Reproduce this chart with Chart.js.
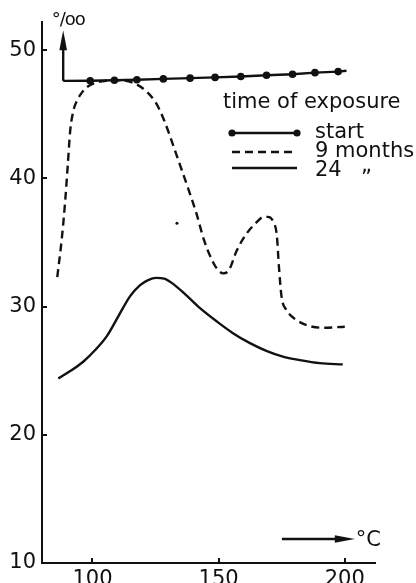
<!DOCTYPE html>
<html>
<head>
<meta charset="utf-8">
<script src="https://cdn.jsdelivr.net/npm/chart.js@4.4.1/dist/chart.umd.min.js"></script>
<style>
  html, body { margin: 0; padding: 0; background: #fff; }
  #wrap { width: 416px; height: 583px; overflow: hidden; }
</style>
</head>
<body>
<div id="wrap"><canvas id="c" width="416" height="583"></canvas></div>
<script>
// Axis ticks and labels
const xTicks = [100, 150, 200];
const yTicks = [10, 20, 30, 40, 50];
const legendTitle = 'time of exposure';
const seriesNames = ['start', '9 months', '24'];
const dittoMark = '\u201E';
const yUnit = '\u00B0/oo';
const xUnit = '\u00B0C';

// start of exposure (dots are measured points; first/last are line ends)
const tempStart = [88.4, 99.1, 108.7, 117.6, 128.1, 138.7, 148.6, 158.8, 169.0, 179.3, 188.2, 197.4, 200.7];
const ppmStart  = [47.61, 47.62, 47.66, 47.70, 47.76, 47.82, 47.88, 47.95, 48.05, 48.13, 48.25, 48.33, 48.40];
const startDot  = [false, true, true, true, true, true, true, true, true, true, true, true, false];

// after 9 months
const temp9 = [86.05, 87.91, 89.22, 90.21, 91.20, 92.50, 93.97, 95.95, 98.32, 101.49, 105.45, 109.40, 113.36,
  117.32, 121.27, 125.23, 128.40, 131.56, 134.73, 137.89, 141.06, 144.23, 147.40, 149.77, 151.86, 154.12,
  157.29, 161.24, 165.20, 167.57, 169.55, 171.53, 173.11, 173.90, 174.97, 176.95, 180.91, 186.17, 191.32, 200.02];
const ppm9 = [32.30, 35.42, 38.31, 41.03, 43.76, 45.32, 46.10, 46.73, 47.19, 47.47, 47.62, 47.66, 47.61,
  47.35, 46.80, 45.87, 44.54, 42.83, 41.03, 39.24, 37.37, 35.18, 33.63, 32.85, 32.59, 32.85,
  34.41, 35.73, 36.61, 36.98, 37.00, 36.67, 35.50, 33.16, 30.76, 29.73, 28.95, 28.48, 28.35, 28.43];

// after 24 months
const temp24 = [86.45, 91.20, 96.34, 101.09, 105.84, 110.19, 114.94, 118.90, 122.06, 125.23, 128.40, 131.56,
  136.71, 142.64, 149.37, 155.70, 162.43, 169.16, 175.49, 182.22, 190.13, 199.23];
const ppm24 = [24.40, 24.97, 25.70, 26.61, 27.74, 29.22, 30.82, 31.68, 32.07, 32.24, 32.18, 31.83,
  30.97, 29.88, 28.83, 27.93, 27.15, 26.53, 26.10, 25.83, 25.59, 25.49];

// stray speck on the plate
const tempSpeck = [133.5];
const ppmSpeck = [36.5];

const FONT = 'DejaVu Sans';
const INK = '#111111';
const LW = 2.4;

const pts = (xs, ys) => xs.map((v, i) => ({ x: v, y: ys[i] }));

const decorations = {
  id: 'decorations',
  afterDraw(chart) {
    const { ctx, chartArea: a, scales: { x, y } } = chart;
    ctx.save();
    ctx.strokeStyle = INK;
    ctx.fillStyle = INK;
    ctx.lineWidth = 2;
    ctx.lineCap = 'butt';

    const seg = (x1, y1, x2, y2) => { ctx.beginPath(); ctx.moveTo(x1, y1); ctx.lineTo(x2, y2); ctx.stroke(); };

    // inward tick marks
    yTicks.forEach(v => { const py = Math.round(y.getPixelForValue(v)); seg(a.left, py, a.left + 5, py); });
    xTicks.forEach(v => { const px = Math.round(x.getPixelForValue(v)); seg(px, a.bottom, px, a.bottom - 5); });

    // vertical unit arrow rising from the start line
    const ax = x.getPixelForValue(tempStart[0]);
    const ay0 = y.getPixelForValue(ppmStart[0]);
    const tipY = y.getPixelForValue(51.56);
    ctx.lineWidth = LW;
    seg(ax, ay0, ax, tipY + 16);
    ctx.beginPath();
    ctx.moveTo(ax, tipY);
    ctx.lineTo(ax - 3.8, tipY + 20);
    ctx.lineTo(ax + 3.8, tipY + 20);
    ctx.closePath();
    ctx.fill();
    ctx.font = '18px "' + FONT + '"';
    ctx.letterSpacing = '-1px';
    ctx.textAlign = 'center';
    ctx.textBaseline = 'alphabetic';
    ctx.fillText(yUnit, ax + 5, tipY - 5);
    ctx.letterSpacing = '0px';

    // horizontal unit arrow
    const hy = y.getPixelForValue(11.87);
    const hx0 = x.getPixelForValue(175.1);
    const hx1 = x.getPixelForValue(204.0);
    seg(hx0, hy, hx1 - 16, hy);
    ctx.beginPath();
    ctx.moveTo(hx1, hy);
    ctx.lineTo(hx1 - 20, hy - 3.8);
    ctx.lineTo(hx1 - 20, hy + 3.8);
    ctx.closePath();
    ctx.fill();
    ctx.font = '21px "' + FONT + '"';
    ctx.textAlign = 'left';
    ctx.fillText(xUnit, hx1 + 1, hy + 7);

    // legend
    ctx.font = '21px "' + FONT + '"';
    ctx.textAlign = 'left';
    ctx.fillText(legendTitle, 223, 108);
    const lx0 = 232, lx1 = 297, tx = 315;
    const rows = [
      { ly: 133, ty: 138 },
      { ly: 152, ty: 157 },
      { ly: 168, ty: 176 }
    ];
    chart.data.datasets.slice(0, 3).forEach((ds, i) => {
      const r = rows[i];
      ctx.setLineDash(ds.borderDash || []);
      ctx.lineWidth = ds.borderWidth;
      seg(lx0, r.ly, lx1, r.ly);
      ctx.setLineDash([]);
      if (i === 0) {
        [lx0, lx1].forEach(px => { ctx.beginPath(); ctx.arc(px, r.ly, 3.6, 0, Math.PI * 2); ctx.fill(); });
      }
      ctx.fillText(seriesNames[i], tx, r.ty);
    });
    ctx.fillText(dittoMark, 361, 172);
    ctx.restore();
  }
};

new Chart(document.getElementById('c'), {
  type: 'line',
  data: {
    datasets: [
      {
        label: seriesNames[0],
        data: pts(tempStart, ppmStart),
        borderColor: INK, backgroundColor: INK, borderWidth: LW,
        pointRadius: startDot.map(d => d ? 3.8 : 0),
        pointBackgroundColor: INK, pointBorderWidth: 0,
        tension: 0
      },
      {
        label: seriesNames[1],
        data: pts(temp9, ppm9),
        borderColor: INK, borderWidth: LW, borderDash: [8, 5],
        pointRadius: 0, cubicInterpolationMode: 'monotone'
      },
      {
        label: seriesNames[2],
        data: pts(temp24, ppm24),
        borderColor: INK, borderWidth: LW,
        pointRadius: 0, cubicInterpolationMode: 'monotone'
      },
      {
        label: 'speck',
        data: pts(tempSpeck, ppmSpeck),
        showLine: false, pointRadius: 1.5,
        pointBackgroundColor: INK, pointBorderWidth: 0
      }
    ]
  },
  options: {
    responsive: false,
    devicePixelRatio: 1,
    animation: false,
    layout: { padding: { top: 22, right: 41, left: 0, bottom: 0 } },
    plugins: { legend: { display: false }, tooltip: { enabled: false } },
    scales: {
      x: {
        type: 'linear', min: 80, max: 212,
        afterBuildTicks: s => { s.ticks = xTicks.map(v => ({ value: v })); },
        afterFit: s => { s.height = 20; },
        grid: { display: false, drawTicks: false },
        border: { display: true, color: INK, width: 2 },
        ticks: { font: { family: FONT, size: 21 }, color: INK, padding: 4, maxRotation: 0, autoSkip: false }
      },
      y: {
        type: 'linear', min: 10, max: 52.2,
        afterBuildTicks: s => { s.ticks = yTicks.map(v => ({ value: v })); },
        afterFit: s => { s.width = 42; },
        grid: { display: false, drawTicks: false },
        border: { display: true, color: INK, width: 2 },
        ticks: { font: { family: FONT, size: 21 }, color: INK, padding: 6, autoSkip: false }
      }
    }
  },
  plugins: [decorations]
});
</script>
</body>
</html>
